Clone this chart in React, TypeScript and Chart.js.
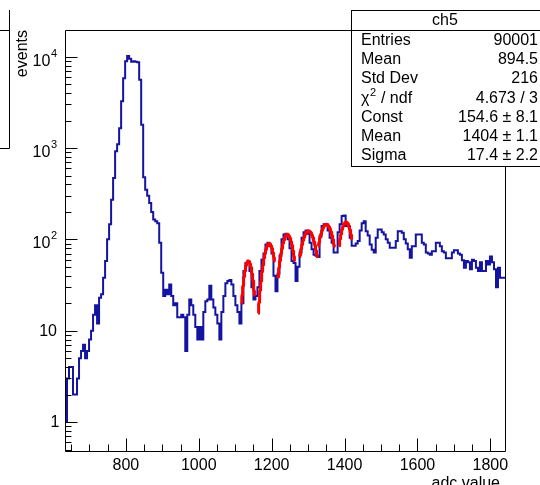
import { useEffect, useRef } from "react";
import { Chart, registerables } from "chart.js";

Chart.register(...registerables);

// ---- histogram binning (adc value) ----
const X_MIN = 633;
const BIN_WIDTH = 5.5;
const X_AXIS_MIN = 633;
const X_AXIS_MAX = 1843;
const Y_MIN = 0.47;
const Y_MAX = 19600;

// bin contents, read left to right
const countsRise = [1, 1, 3, 4, 4, 2, 2, 3, 5, 6, 7, 5, 6, 8, 10, 15, 19, 12, 23, 25, 38, 58, 100];
const countsPeak = [146, 272, 470, 920, 1100, 1650, 3250, 5800, 8900, 10200, 9500, 8800, 8900, 8800, 8700, 5600, 1800, 480, 350, 300, 250, 200, 165, 158, 150, 92, 43, 24, 28, 25, 32, 24, 19, 20];
const countsValley = [14, 14, 15, 14, 6, 15, 22, 19, 15, 11, 8, 11, 8, 16, 21, 22, 31, 22, 18, 15, 12, 8, 16, 24, 33, 35, 36, 32, 24, 19, 16, 12, 20];
const countsFitRegion = [
  45, 55, 56, 45, 30, 22, 24, 30, 45, 60,
  70, 88, 92, 84, 70, 40, 27, 42, 66, 100,
  113, 115, 100, 80, 58, 55, 35, 50, 72, 104,
  120, 125, 115, 92, 78, 68, 66, 64, 108, 140,
  146, 146, 125, 104, 92, 72, 72, 120, 146, 180,
  182, 140, 140, 104, 85, 85, 90, 96, 125, 150,
];
const countsTail = [
  158, 123, 110, 88, 77, 72, 104, 128, 128, 120,
  113, 100, 92, 81, 81, 81, 96, 123, 123, 118,
  100, 90, 78, 63, 84, 84, 113, 113, 113, 92,
  88, 72, 70, 68, 74, 74, 92, 92, 84, 74,
  72, 62, 62, 62, 72, 76, 76, 70, 68, 59,
  49, 58, 56, 47, 60, 58, 49, 45, 56, 45,
  45, 58, 53, 65, 56, 47, 30, 49, 38, 38,
];

const fitConst = [58, 90, 113, 124, 146, 154.6];
const fitMean = [1136, 1193, 1243, 1301, 1350, 1404];
const fitSigma = [13, 16, 17.5, 21, 21, 17.4];
const fitLow = [1117, 1163, 1217, 1277, 1328, 1385];
const fitHigh = [1153, 1208, 1263, 1325, 1372, 1420];

// ---- axes ----
const xMajorTicks = [800, 1000, 1200, 1400, 1600, 1800];
const xMinorStep = 50;
const yMajorTicks = [1, 10, 100, 1000, 10000];
const yLabelBase = ["1", "10", "10", "10", "10"];
const yLabelExp = ["", "", "2", "3", "4"];
const xTitle = "adc value";
const yTitle = "events";

// ---- stats box ----
const statsTitle = "ch5";
const statsNames = ["Entries", "Mean", "Std Dev", "χ2 / ndf", "Const", "Mean", "Sigma"];
const statsValues = ["90001", "894.5", "216", "4.673 / 3", "154.6 ± 8.1", "1404 ± 1.1", "17.4 ± 2.2"];

const FONT = '"Liberation Sans", Arial, Helvetica, sans-serif';
const BLUE = "#1414a0";

const rootStylePlugin = {
  id: "rootStyle",
  afterDatasetsDraw(chart: any) {
    const ctx: CanvasRenderingContext2D = chart.ctx;
    const { left, right, top, bottom } = chart.chartArea;
    const xs = chart.scales.x;
    const ys = chart.scales.y;
    const L = Math.round(left) + 0.5;
    const R = Math.round(right) - 0.5;
    const T = Math.round(top) + 0.5;
    const B = Math.round(bottom) - 0.5;
    ctx.save();
    ctx.strokeStyle = "#000";
    ctx.fillStyle = "#000";
    ctx.lineWidth = 1;

    // frame
    ctx.beginPath();
    ctx.moveTo(L, T);
    ctx.lineTo(R, T);
    ctx.lineTo(R, B);
    ctx.lineTo(L, B);
    ctx.closePath();
    ctx.stroke();

    // x ticks (inward)
    ctx.beginPath();
    const firstMinor = Math.ceil(X_AXIS_MIN / xMinorStep) * xMinorStep;
    for (let v = firstMinor; v <= X_AXIS_MAX; v += xMinorStep) {
      const px = Math.round(xs.getPixelForValue(v)) + 0.5;
      const len = xMajorTicks.includes(v) ? 13 : 7;
      ctx.moveTo(px, B);
      ctx.lineTo(px, B - len);
    }
    // y ticks (log, inward)
    for (let d = -1; d <= 4; d++) {
      for (let m = 1; m <= 9; m++) {
        const v = m * Math.pow(10, d);
        if (v < Y_MIN || v > Y_MAX) continue;
        const py = Math.round(ys.getPixelForValue(v)) + 0.5;
        const len = m === 1 ? 12 : 6;
        ctx.moveTo(L, py);
        ctx.lineTo(L + len, py);
      }
    }
    ctx.stroke();

    // x labels
    ctx.font = `16px ${FONT}`;
    ctx.textAlign = "center";
    ctx.textBaseline = "alphabetic";
    xMajorTicks.forEach((v) => {
      ctx.fillText(String(v), xs.getPixelForValue(v), 470);
    });

    // y labels
    yMajorTicks.forEach((v, i) => {
      const py = ys.getPixelForValue(v);
      const exp = yLabelExp[i];
      ctx.textBaseline = "middle";
      ctx.textAlign = "right";
      if (!exp) {
        ctx.font = `16px ${FONT}`;
        ctx.fillText(yLabelBase[i], yLabelBase[i] === "1" ? 59.5 : 57, py + 1);
      } else {
        ctx.font = `11px ${FONT}`;
        const w = ctx.measureText(exp).width;
        ctx.fillText(exp, 57, py - 3);
        ctx.font = `16px ${FONT}`;
        ctx.fillText(yLabelBase[i], 57 - w - 0.5, py + 4.5);
      }
    });

    // axis titles
    ctx.font = `16px ${FONT}`;
    ctx.textAlign = "right";
    ctx.textBaseline = "alphabetic";
    ctx.fillText(xTitle, 500, 488);
    ctx.save();
    ctx.translate(26.5, 30);
    ctx.rotate(-Math.PI / 2);
    ctx.textAlign = "right";
    ctx.fillText(yTitle, 0, 0);
    ctx.restore();

    // left (cut-off) box
    ctx.beginPath();
    ctx.moveTo(9.5, 10);
    ctx.lineTo(9.5, 148.5);
    ctx.lineTo(0, 148.5);
    ctx.moveTo(0, 30.5);
    ctx.lineTo(9.5, 30.5);
    ctx.stroke();

    // stats box
    const bx = 351.5, by = 10.5, bw = 200, bh = 156;
    ctx.fillStyle = "#fff";
    ctx.fillRect(bx, by, bw, bh);
    ctx.strokeRect(bx, by, bw, bh);
    ctx.beginPath();
    ctx.moveTo(bx, 30.5);
    ctx.lineTo(bx + bw, 30.5);
    ctx.stroke();
    ctx.fillStyle = "#000";
    ctx.font = `16px ${FONT}`;
    ctx.textBaseline = "middle";
    ctx.textAlign = "center";
    ctx.fillText(statsTitle, 445, 20.5);
    statsNames.forEach((name, i) => {
      const y = 40.5 + i * 19.2;
      ctx.textAlign = "left";
      if (name.startsWith("χ")) {
        ctx.font = `16px ${FONT}`;
        ctx.fillText("χ", 361, y);
        const w1 = ctx.measureText("χ").width;
        ctx.font = `11px ${FONT}`;
        ctx.fillText("2", 361 + w1 + 0.5, y - 5);
        const w2 = ctx.measureText("2").width;
        ctx.font = `16px ${FONT}`;
        ctx.fillText(name.slice(2), 361 + w1 + w2 + 1, y);
      } else {
        ctx.font = `16px ${FONT}`;
        ctx.fillText(name, 361, y);
      }
      ctx.textAlign = "right";
      ctx.font = `16px ${FONT}`;
      ctx.fillText(statsValues[i], 538, y);
    });
    ctx.restore();
  },
};

export default function App() {
  const ref = useRef<HTMLCanvasElement>(null);
  useEffect(() => {
    const canvas = ref.current;
    if (!canvas) return;
    const counts = [...countsRise, ...countsPeak, ...countsValley, ...countsFitRegion, ...countsTail];
    const histPoints = counts.map((c, i) => ({ x: X_MIN + i * BIN_WIDTH, y: c }));
    histPoints.push({ x: X_MIN + counts.length * BIN_WIDTH, y: counts[counts.length - 1] });

    const fitDatasets = fitConst.map((c, k) => {
      const pts: { x: number; y: number }[] = [];
      for (let x = fitLow[k]; x <= fitHigh[k] + 1e-9; x += 0.5) {
        pts.push({ x, y: c * Math.exp(-0.5 * Math.pow((x - fitMean[k]) / fitSigma[k], 2)) });
      }
      return {
        data: pts,
        borderColor: "#ff0000",
        borderWidth: 3,
        pointRadius: 0,
        tension: 0,
        fill: false,
        order: 0,
        borderJoinStyle: "round" as const,
      };
    });

    const chart = new Chart(canvas, {
      type: "line",
      data: {
        datasets: [
          {
            data: histPoints,
            borderColor: BLUE,
            borderWidth: 2,
            stepped: "after",
            pointRadius: 0,
            fill: false,
            order: 1,
            borderJoinStyle: "miter",
          } as any,
          ...(fitDatasets as any[]),
        ],
      },
      options: {
        responsive: false,
        animation: false,
        devicePixelRatio: 1,
        events: [],
        layout: { padding: { left: 65, top: 30, right: 34, bottom: 33 } },
        scales: {
          x: { type: "linear", min: X_AXIS_MIN, max: X_AXIS_MAX, display: false },
          y: { type: "logarithmic", min: Y_MIN, max: Y_MAX, display: false },
        },
        plugins: { legend: { display: false }, tooltip: { enabled: false } },
      },
      plugins: [rootStylePlugin],
    });
    return () => chart.destroy();
  }, []);
  return (
    <canvas
      ref={ref}
      width={540}
      height={485}
      style={{ position: "fixed", left: 0, top: 0, width: 540, height: 485, background: "#fff" }}
    />
  );
}
